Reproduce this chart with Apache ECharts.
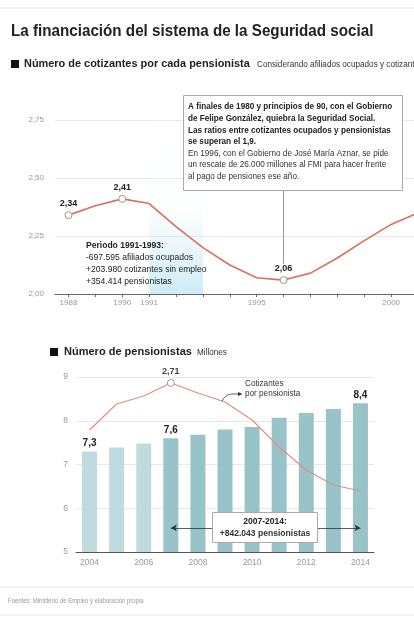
<!DOCTYPE html>
<html><head><meta charset="utf-8">
<script src="https://cdn.jsdelivr.net/npm/echarts@6/dist/echarts.min.js"></script>
<style>html,body{margin:0;padding:0;background:#fff}#c{width:414px;height:623px}</style>
</head><body><div id="c"></div>
<script>
// ---- data ----
const topYears = [1988,1989,1990,1991,1992,1993,1994,1995,1996,1997,1998,1999,2000,2001];
const topRatio = [2.34,2.38,2.41,2.39,2.29,2.20,2.125,2.07,2.06,2.09,2.155,2.23,2.30,2.35];
const topHighlighted = [1988,1990,1996];
const topXTicks = [1988,1989,1990,1991,1992,1993,1994,1995,1996,1997,1998,1999,2000];
const topXLabels = [1988,1990,1991,1995,2000];
const topYTicks = [2.00,2.25,2.50,2.75];
const shadePeriod = [1991,1993];
const rescueYear = 1996;

const botYears = ['2004','2005','2006','2007','2008','2009','2010','2011','2012','2013','2014'];
const pensionistas = [7.3,7.39,7.48,7.6,7.68,7.8,7.86,8.07,8.18,8.27,8.4];
const cotizPorPens = [2.475,2.605,2.645,2.71,2.66,2.615,2.525,2.39,2.275,2.20,2.17];
const labeledBars = ['2004','2007','2014'];
const labeledLinePts = ['2007'];
const botXLabels = ['2004','2006','2008','2010','2012','2014'];
const botYTicks = [5,6,7,8,9];
const periodRange = ['2007','2014'];

// ---- styles ----
const SANS = '"Liberation Sans",Arial,sans-serif';
const NX = 0.95; // slight horizontal compression to emulate the condensed face
const comma = v => String(v).replace('.', ',');
const fmt2 = v => v.toFixed(2).replace('.', ',');

const chart = echarts.init(document.getElementById('c'), null, {renderer:'canvas'});

function txt(x, y, text, font, fill, align, sx) {
  return {type:'text', x, y, z:20, scaleX: sx || NX, scaleY:1,
    style:{text, font: font + ' ' + SANS, fill: fill || '#222', textAlign: align || 'left', textVerticalAlign:'middle'}};
}

const graphics = [
  {type:'line', z:1, shape:{x1:0,y1:8,x2:414,y2:8}, style:{stroke:'#ececec', lineWidth:1}},
  txt(11, 32, 'La financiación del sistema de la Seguridad social', 'bold 16px', '#222'),
  {type:'rect', z:20, shape:{x:11,y:60,width:8,height:8}, style:{fill:'#111'}},
  txt(24, 64, 'Número de cotizantes por cada pensionista', 'bold 11.5px', '#222'),
  txt(257, 65, 'Considerando afiliados ocupados y cotizantes sin empleo', '8.6px', '#333'),
  // annotation box
  {type:'rect', z:15, shape:{x:183.5,y:95.5,width:219,height:95}, style:{fill:'#fff', stroke:'#aaa', lineWidth:1}},
  txt(188, 107, 'A finales de 1980 y principios de 90, con el Gobierno', 'bold 8.6px', '#222'),
  txt(188, 119, 'de Felipe González, quiebra la Seguridad Social.', 'bold 8.6px', '#222'),
  txt(188, 131, 'Las ratios entre cotizantes ocupados y pensionistas', 'bold 8.6px', '#222'),
  txt(188, 142, 'se superan el 1,9.', 'bold 8.6px', '#222'),
  txt(188, 154, 'En 1996, con el Gobierno de José María Aznar, se pide', '8.6px', '#333'),
  txt(188, 165, 'un rescate de 26.000 millones al FMI para hacer frente', '8.6px', '#333'),
  txt(188, 177, 'al pago de pensiones ese año.', '8.6px', '#333'),
  // period text
  txt(86, 246, 'Periodo 1991-1993:', 'bold 9px', '#222'),
  txt(86, 258, '-697.595 afiliados ocupados', '9px', '#222'),
  txt(86, 270, '+203.980 cotizantes sin empleo', '9px', '#222'),
  txt(86, 282, '+354.414 pensionistas', '9px', '#222'),
  // second title
  {type:'rect', z:20, shape:{x:50,y:348,width:8,height:8}, style:{fill:'#111'}},
  txt(64, 352, 'Número de pensionistas', 'bold 11.6px', '#222'),
  txt(197, 353, 'Millones', '8.6px', '#333'),
  // cotizantes label with leader
  txt(245, 384, 'Cotizantes', '8.6px', '#333'),
  txt(245, 394, 'por pensionista', '8.6px', '#333'),
  {type:'bezierCurve', z:20, shape:{x1:222,y1:401,x2:240,y2:394,cpx1:226,cpy1:393,cpx2:232,cpy2:394}, style:{stroke:'#333', lineWidth:0.8, fill:null}},
  {type:'polygon', z:20, shape:{points:[[238,392],[242.5,394],[238,396]]}, style:{fill:'#333'}},
  // period box
  {type:'rect', z:15, shape:{x:212.5,y:512.5,width:105,height:30}, style:{fill:'#fff', stroke:'#aaa', lineWidth:1}},
  txt(265, 522, '2007-2014:', 'bold 9px', '#222', 'center'),
  txt(265, 534, '+842.043 pensionistas', 'bold 9px', '#333', 'center'),
  // footer
  {type:'line', z:1, shape:{x1:0,y1:587,x2:414,y2:587}, style:{stroke:'#e6e6e6', lineWidth:1}},
  {type:'line', z:1, shape:{x1:0,y1:615,x2:414,y2:615}, style:{stroke:'#e6e6e6', lineWidth:1}},
  txt(8, 601, 'Fuentes: Ministerio de Empleo y elaboración propia', '7px', '#999', 'left', 0.85)
];

const option = {
  animation:false,
  backgroundColor:'#fff',
  graphic: graphics,
  grid:[
    {left:55, top:120, right:0, height:174},
    {left:76, top:377, width:298, height:175}
  ],
  xAxis:[
    {type:'value', gridIndex:0, min:1987.5, max:2000.85,
      axisLine:{show:true, lineStyle:{color:'#666', width:1}},
      axisTick:{show:true, length:3, lineStyle:{color:'#666'}, customValues: topXTicks},
      axisLabel:{customValues: topXLabels, color:'#999', fontSize:8, fontFamily:SANS, margin:5, formatter: v => String(v)},
      splitLine:{show:false}},
    {type:'category', gridIndex:1, data: botYears,
      axisLine:{show:true, lineStyle:{color:'#555', width:1}},
      axisTick:{show:false},
      axisLabel:{interval:0, color:'#999', fontSize:8.5, fontFamily:SANS, margin:6,
        formatter: v => botXLabels.includes(v) ? v : ''}}
  ],
  yAxis:[
    {type:'value', gridIndex:0, min:2, max:2.75, interval:0.25,
      axisLine:{show:false}, axisTick:{show:false},
      axisLabel:{color:'#999', fontSize:8, fontFamily:SANS, margin:11, formatter: v => fmt2(v)},
      splitLine:{show:true, lineStyle:{color:'#e8e8e8', width:1}}},
    {type:'value', gridIndex:1, min:5, max:9, interval:1,
      axisLine:{show:false}, axisTick:{show:false},
      axisLabel:{color:'#999', fontSize:8.5, fontFamily:SANS, margin:8},
      splitLine:{show:true, lineStyle:{color:'#e8e8e8', width:1}}},
    {type:'value', gridIndex:1, min:1.865, max:2.74, show:false, splitLine:{show:false}}
  ],
  series:[
    {type:'line', xAxisIndex:0, yAxisIndex:0, z:5, clip:true,
      lineStyle:{color:'#d9705a', width:1.6},
      data: topYears.map((y,i) => {
        const hl = topHighlighted.includes(y);
        return {value:[y, topRatio[i]],
          symbol: hl ? 'circle' : 'none', symbolSize:7,
          itemStyle:{color:'#fff', borderColor:'#999', borderWidth:1},
          label:{show:hl, position:'top', distance:3, formatter: p => fmt2(p.value[1]),
            fontWeight:'bold', fontSize:9, fontFamily:SANS, color:'#222'}};
      }),
      markArea:{silent:true, z:1,
        itemStyle:{color:{type:'linear', x:0,y:0,x2:0,y2:1, colorStops:[
          {offset:0, color:'rgba(214,240,249,0)'},
          {offset:0.5, color:'rgba(214,240,249,0.05)'},
          {offset:1, color:'rgba(205,236,247,1)'}]}},
        data:[[{xAxis:shadePeriod[0]},{xAxis:shadePeriod[1]}]]},
      markLine:{silent:true, symbol:'none', label:{show:false},
        lineStyle:{color:'#999', width:1, type:'solid'},
        data:[[{coord:[rescueYear, 2.13]},{coord:[rescueYear, 2.448]}]]}
    },
    {type:'bar', xAxisIndex:1, yAxisIndex:1, barWidth:15, z:2,
      data: botYears.map((y,i) => ({value: pensionistas[i],
        itemStyle:{color: y >= periodRange[0] ? '#98c4c9' : '#bfdbde'},
        label:{show: labeledBars.includes(y), position:'top', distance:3,
          formatter: p => comma(p.value), fontWeight:'bold', fontSize:10, fontFamily:SANS, color:'#222'}})),
      markLine:{silent:true, symbol:['arrow','arrow'], symbolSize:[5,6], label:{show:false},
        lineStyle:{color:'#333', width:0.8, type:'solid'},
        data:[[{coord:[periodRange[0], 5.55]},{coord:[periodRange[1], 5.55]}]]}
    },
    {type:'line', xAxisIndex:1, yAxisIndex:2, z:5,
      lineStyle:{color:'#e0907e', width:1.2},
      data: botYears.map((y,i) => {
        const hl = labeledLinePts.includes(y);
        return {value: cotizPorPens[i], symbol: hl ? 'circle':'none', symbolSize:7,
          itemStyle:{color:'#fff', borderColor:'#999', borderWidth:1},
          label:{show:hl, position:'top', distance:3, formatter: p => comma(p.value),
            fontWeight:'bold', fontSize:9, fontFamily:SANS, color:'#444'}};
      })
    }
  ]
};
chart.setOption(option);
</script>
</body></html>
